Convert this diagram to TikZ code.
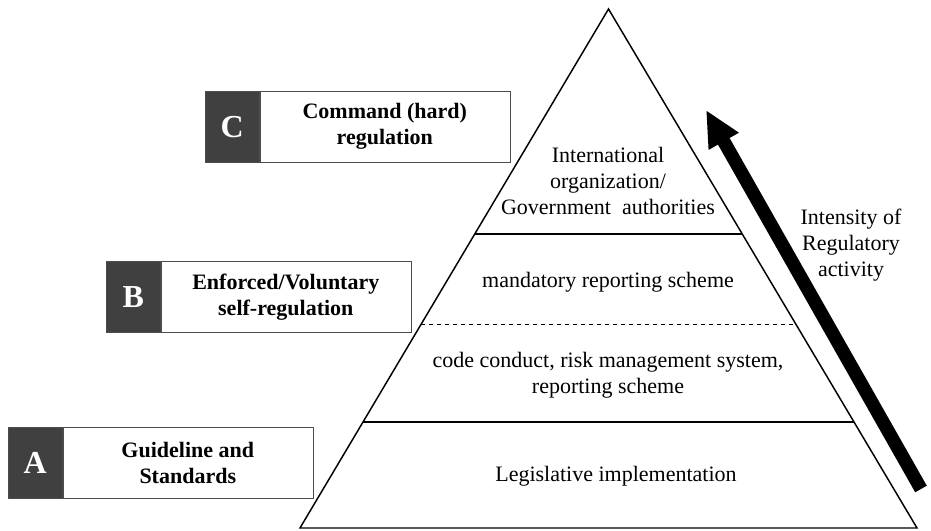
\documentclass[tikz,border=0pt]{standalone}
\usepackage{fontspec}
\setmainfont{Liberation Serif}
\usetikzlibrary{positioning, calc, arrows.meta}

\begin{document}
\begin{tikzpicture}[x=0.75pt, y=-0.75pt,
    letterbox/.style={draw=black!70, fill=black!75, text=white, font=\fontsize{24}{24}\selectfont\bfseries,
      minimum width=40.5pt, minimum height=53.25pt, inner sep=0pt, anchor=north west},
    labelbox/.style={draw=black!70, fill=white, font=\fontsize{16.5}{19.5}\selectfont\bfseries, align=center,
      minimum width=187.5pt, minimum height=53.25pt, inner sep=0pt, anchor=north west},
    layer/.style={font=\fontsize{16.5}{19.5}\selectfont, align=center}]
      \useasboundingbox (0,0) rectangle (931,531);

      % pyramid outline
      \coordinate (top) at (608.5,9);
      \coordinate (bl) at (300,528);
      \coordinate (br) at (917,528);
      \draw[line width=1.1pt] (bl) -- (top) -- (br) -- cycle;

      % layer borders
      \draw[line width=0.8pt] ($(top)!0.4335!(bl)$) -- ($(top)!0.4335!(br)$);
      \draw[dashed, line width=0.6pt] ($(top)!0.607!(bl)$) -- ($(top)!0.607!(br)$);
      \draw[line width=0.8pt] ($(top)!0.7958!(bl)$) -- ($(top)!0.7958!(br)$);

      \node[layer] (l4) at (608,181) {International\\organization/\\Government~ authorities};
      \node[layer] (l3) at (608,282) {mandatory reporting scheme};
      \node[layer] (l2) at (608,375) {code conduct, risk management system,\\reporting scheme};
      \node[layer] (l1) at (616,476) {Legislative implementation};

      % regulation levels
      \node[letterbox] (c) at (205,91) {C};
      \node[labelbox, right=0pt of c.north east, anchor=north west] (cl) {Command (hard)\\regulation};
      \node[letterbox] (b) at (106,261) {B};
      \node[labelbox, right=0pt of b.north east, anchor=north west] (bl2) {Enforced/Voluntary\\self-regulation};
      \node[letterbox] (a) at (8,427) {A};
      \node[labelbox, right=0pt of a.north east, anchor=north west] (al) {Guideline and\\Standards};

      % intensity arrow
      \coordinate (tail) at (921,489);
      \coordinate (tip) at (706,110);
      \draw[line width=10pt, -{Triangle[length=27pt, width=24pt]}] (tail) -- (tip);
      \node[layer] (int) at (851,245) {Intensity of\\Regulatory\\activity};
    \end{tikzpicture}
\end{document}
